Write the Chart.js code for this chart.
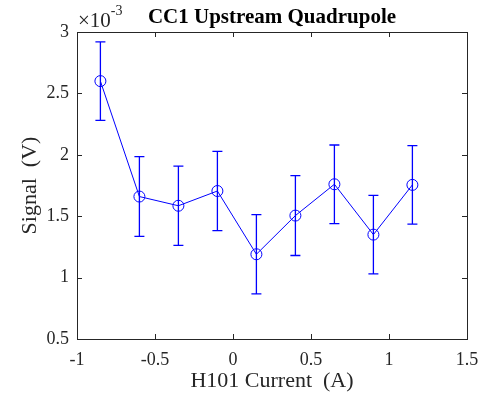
<!DOCTYPE html>
<html>
<head>
<meta charset="utf-8">
<script src="https://cdn.jsdelivr.net/npm/chart.js@4"></script>
<style>
  html, body { margin: 0; padding: 0; background: #fff; }
  #chart { display: block; }
</style>
</head>
<body>
<canvas id="chart" width="489" height="398"></canvas>
<script>
// Data (signal in units of 1e-3 V)
const currents = [-0.85, -0.6, -0.35, -0.1, 0.15, 0.4, 0.65, 0.9, 1.15];
const signal = [2.60, 1.66, 1.585, 1.705, 1.19, 1.505, 1.76, 1.35, 1.755];
const errors = [0.32, 0.325, 0.323, 0.323, 0.323, 0.325, 0.32, 0.32, 0.32];
const xTicks = [-1, -0.5, 0, 0.5, 1, 1.5];
const yTicks = [0.5, 1, 1.5, 2, 2.5, 3];

const BLUE = '#0000ff';
const AXIS = '#262626';
const SERIF = '"Liberation Serif", "Times New Roman", serif';

// error bars, drawn through the scales
const errorBars = {
    id: 'errorBars',
    afterDatasetsDraw(chart) {
        const ctx = chart.ctx;
        const xs = chart.scales.x, ys = chart.scales.y;
        ctx.save();
        ctx.strokeStyle = BLUE;
        ctx.lineWidth = 1.3;
        currents.forEach((c, i) => {
            const px = xs.getPixelForValue(c);
            const top = ys.getPixelForValue(signal[i] + errors[i]);
            const bot = ys.getPixelForValue(signal[i] - errors[i]);
            ctx.beginPath();
            ctx.moveTo(px, top); ctx.lineTo(px, bot);
            ctx.moveTo(px - 5, top); ctx.lineTo(px + 5, top);
            ctx.moveTo(px - 5, bot); ctx.lineTo(px + 5, bot);
            ctx.stroke();
        });
        ctx.restore();
    }
};

// MATLAB style box with inward ticks, title and exponent label
const matlabBox = {
    id: 'matlabBox',
    afterDraw(chart) {
        const ctx = chart.ctx;
        const a = chart.chartArea;
        const xs = chart.scales.x, ys = chart.scales.y;
        ctx.save();
        ctx.strokeStyle = AXIS;
        ctx.lineWidth = 1;
        ctx.strokeRect(Math.round(a.left) + 0.5, Math.round(a.top) + 0.5,
            Math.round(a.right - a.left), Math.round(a.bottom - a.top));
        ctx.beginPath();
        xTicks.forEach(v => {
            const px = Math.round(xs.getPixelForValue(v)) + 0.5;
            ctx.moveTo(px, a.bottom); ctx.lineTo(px, a.bottom - 5);
            ctx.moveTo(px, a.top); ctx.lineTo(px, a.top + 5);
        });
        yTicks.forEach(v => {
            const py = Math.round(ys.getPixelForValue(v)) + 0.5;
            ctx.moveTo(a.left, py); ctx.lineTo(a.left + 5, py);
            ctx.moveTo(a.right, py); ctx.lineTo(a.right - 5, py);
        });
        ctx.stroke();

        // title
        ctx.fillStyle = '#000';
        ctx.font = 'bold 21px ' + SERIF;
        ctx.textAlign = 'center';
        ctx.textBaseline = 'alphabetic';
        ctx.fillText('CC1 Upstream Quadrupole', (a.left + a.right) / 2, 23);

        // exponent
        ctx.fillStyle = AXIS;
        ctx.textAlign = 'left';
        ctx.font = '21px ' + SERIF;
        ctx.fillText('\u00d710', a.left + 1, 27);
        const w = ctx.measureText('\u00d710').width;
        ctx.font = '14px ' + SERIF;
        ctx.fillText('-3', a.left + 1 + w, 15);
        ctx.restore();
    }
};

new Chart(document.getElementById('chart'), {
    type: 'scatter',
    data: {
        datasets: [{
            data: currents.map((c, i) => ({ x: c, y: signal[i] })),
            showLine: true,
            borderColor: BLUE,
            borderWidth: 1,
            pointRadius: 5.5,
            pointStyle: 'circle',
            pointBorderColor: BLUE,
            pointBackgroundColor: 'rgba(0,0,0,0)',
            pointBorderWidth: 1
        }]
    },
    options: {
        responsive: false,
        animation: false,
        layout: { padding: { top: 32, right: 22, left: 0, bottom: 0 } },
        plugins: {
            legend: { display: false },
            tooltip: { enabled: false }
        },
        scales: {
            x: {
                type: 'linear',
                min: -1, max: 1.5,
                afterBuildTicks: s => { s.ticks = xTicks.map(v => ({ value: v })); },
                afterFit: s => { s.height = 59; },
                grid: { display: false, drawTicks: false },
                border: { display: false },
                ticks: {
                    padding: 10,
                    color: AXIS,
                    font: { family: SERIF, size: 18 },
                    callback: v => String(v)
                },
                title: {
                    display: true,
                    text: 'H101 Current  (A)',
                    color: AXIS,
                    font: { family: SERIF, size: 22 },
                    padding: { top: 0, bottom: 4 }
                }
            },
            y: {
                type: 'linear',
                min: 0.5, max: 3,
                afterBuildTicks: s => { s.ticks = yTicks.map(v => ({ value: v })); },
                afterFit: s => { s.width = 77; },
                grid: { display: false, drawTicks: false },
                border: { display: false },
                ticks: {
                    padding: 8,
                    color: AXIS,
                    font: { family: SERIF, size: 18 },
                    callback: v => String(v)
                },
                title: {
                    display: true,
                    text: 'Signal  (V)',
                    color: AXIS,
                    font: { family: SERIF, size: 22 },
                    padding: { top: 17, bottom: 0 }
                }
            }
        }
    },
    plugins: [errorBars, matlabBox]
});
</script>
</body>
</html>
